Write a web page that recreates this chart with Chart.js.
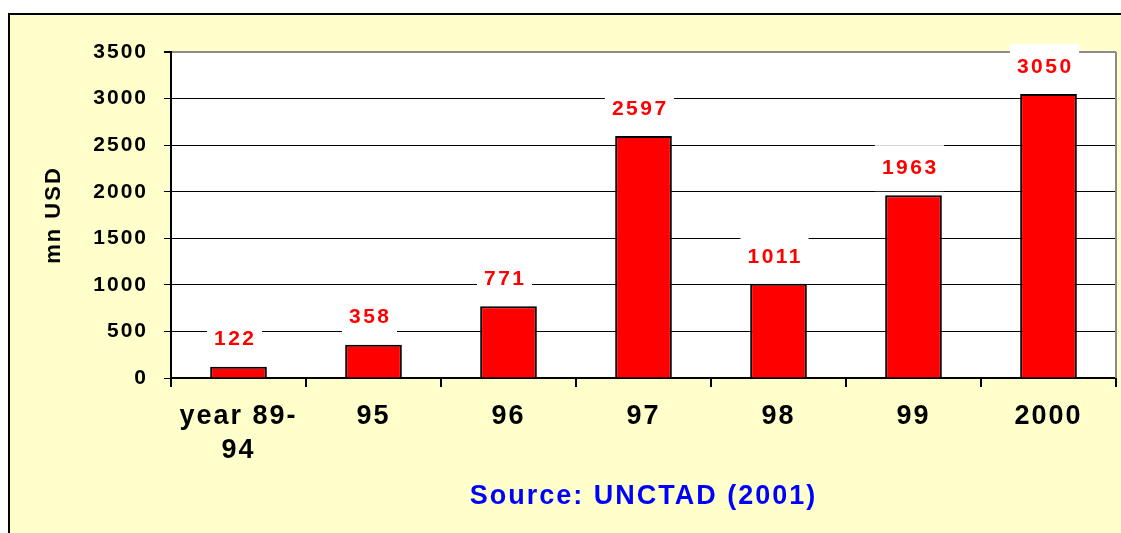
<!DOCTYPE html>
<html><head><meta charset="utf-8">
<script src="https://cdn.jsdelivr.net/npm/chart.js@4/dist/chart.umd.min.js"></script>
<style>html,body{margin:0;padding:0;background:#fff;overflow:hidden}#wrap{width:1121px;height:533px}</style>
</head><body><div id="wrap"><canvas id="c" width="1121" height="533"></canvas></div>
<script>
const categories = [["year 89-", "94"], "95", "96", "97", "98", "99", "2000"];
const values = [122, 358, 771, 2597, 1011, 1963, 3050];
const yTicks = [0, 500, 1000, 1500, 2000, 2500, 3000, 3500];
const yTitle = "mn USD";
const sourceText = "Source: UNCTAD (2001)";

const FONT = "'Liberation Sans', Arial, sans-serif";

const framePlugin = {
  id: 'frame',
  beforeUpdate(chart) { chart.ctx.letterSpacing = '2px'; },
  beforeDraw(chart) {
    const ctx = chart.ctx, a = chart.chartArea;
    ctx.save();
    ctx.letterSpacing = '0px';
    ctx.fillStyle = '#ffffff';
    ctx.fillRect(0, 0, chart.width, chart.height);
    ctx.fillStyle = '#FFFFCC';
    ctx.fillRect(9, 14, chart.width - 9, chart.height - 14);
    ctx.strokeStyle = '#000';
    ctx.lineWidth = 2;
    ctx.strokeRect(9, 14, chart.width + 20, chart.height + 20);
    ctx.fillStyle = '#ffffff';
    ctx.fillRect(a.left, a.top, a.right - a.left, a.bottom - a.top);
    ctx.restore();
    ctx.letterSpacing = '2px';
  },
  beforeDatasetsDraw(chart) {
    const ctx = chart.ctx, a = chart.chartArea;
    ctx.save();
    ctx.strokeStyle = '#8c8c8c';
    ctx.lineWidth = 2;
    ctx.beginPath();
    ctx.moveTo(a.right, a.top);
    ctx.lineTo(a.right, a.bottom);
    ctx.stroke();
    ctx.restore();
  }
};

const labelPlugin = {
  id: 'valueLabels',
  afterDatasetsDraw(chart) {
    const ctx = chart.ctx;
    const meta = chart.getDatasetMeta(0);
    ctx.save();
    ctx.font = 'bold 21px ' + FONT;
    ctx.letterSpacing = '2.5px';
    meta.data.forEach((bar, i) => {
      const txt = String(values[i]);
      const w = ctx.measureText(txt).width - 2.5;
      const cx = bar.x - 4.5;
      const cy = bar.y - 27;
      ctx.fillStyle = '#ffffff';
      ctx.fillRect(cx - w / 2 - 7, cy - 23, w + 15, 46);
      ctx.fillStyle = '#FF0000';
      ctx.textAlign = 'center';
      ctx.textBaseline = 'middle';
      ctx.fillText(txt, cx + 1.25, cy);
    });
    ctx.restore();
  }
};

new Chart(document.getElementById('c'), {
  type: 'bar',
  data: {
    labels: categories,
    datasets: [{
      data: values,
      backgroundColor: '#FF0000',
      borderColor: '#000000',
      borderWidth: 2,
      borderSkipped: 'bottom',
      categoryPercentage: 1,
      barPercentage: 0.42
    }]
  },
  options: {
    responsive: false,
    devicePixelRatio: 1,
    animation: false,
    layout: { padding: { left: 0, top: 52, right: 5, bottom: 0 } },
    plugins: { legend: { display: false }, tooltip: { enabled: false } },
    scales: {
      x: {
        offset: true,
        grid: { offset: true, drawOnChartArea: false, color: '#000', lineWidth: 2, tickLength: 9 },
        border: { color: '#000', width: 2 },
        ticks: {
          color: '#000', padding: 13, maxRotation: 0, autoSkip: false,
          font: { family: FONT, size: 27, weight: 'bold', lineHeight: 1.24 }
        },
        title: {
          display: true, text: sourceText, color: '#0000FF',
          font: { family: FONT, size: 27, weight: 'bold' },
          padding: { top: 0, bottom: 20 }
        },
        afterFit(s) { s.height = 155; }
      },
      y: {
        min: 0, max: 3500,
        afterBuildTicks(s) { s.ticks = yTicks.map(v => ({ value: v })); },
        grid: {
          color: (c) => (c.tick && c.tick.value === 3500 ? '#8c8c8c' : '#000'),
          lineWidth: (c) => (c.tick && c.tick.value === 3500 ? 2 : 1),
          tickColor: '#000', tickLength: 7
        },
        border: { color: '#000', width: 2 },
        ticks: {
          color: '#000', padding: 16,
          callback: (v) => String(v),
          font: { family: FONT, size: 21, weight: 'bold' }
        },
        title: {
          display: true, text: yTitle, color: '#000',
          font: { family: FONT, size: 22, weight: 'bold' },
          padding: { top: 41, bottom: 0 }
        },
        afterFit(s) { s.width = 171; }
      }
    }
  },
  plugins: [framePlugin, labelPlugin]
});
</script>
</body></html>
